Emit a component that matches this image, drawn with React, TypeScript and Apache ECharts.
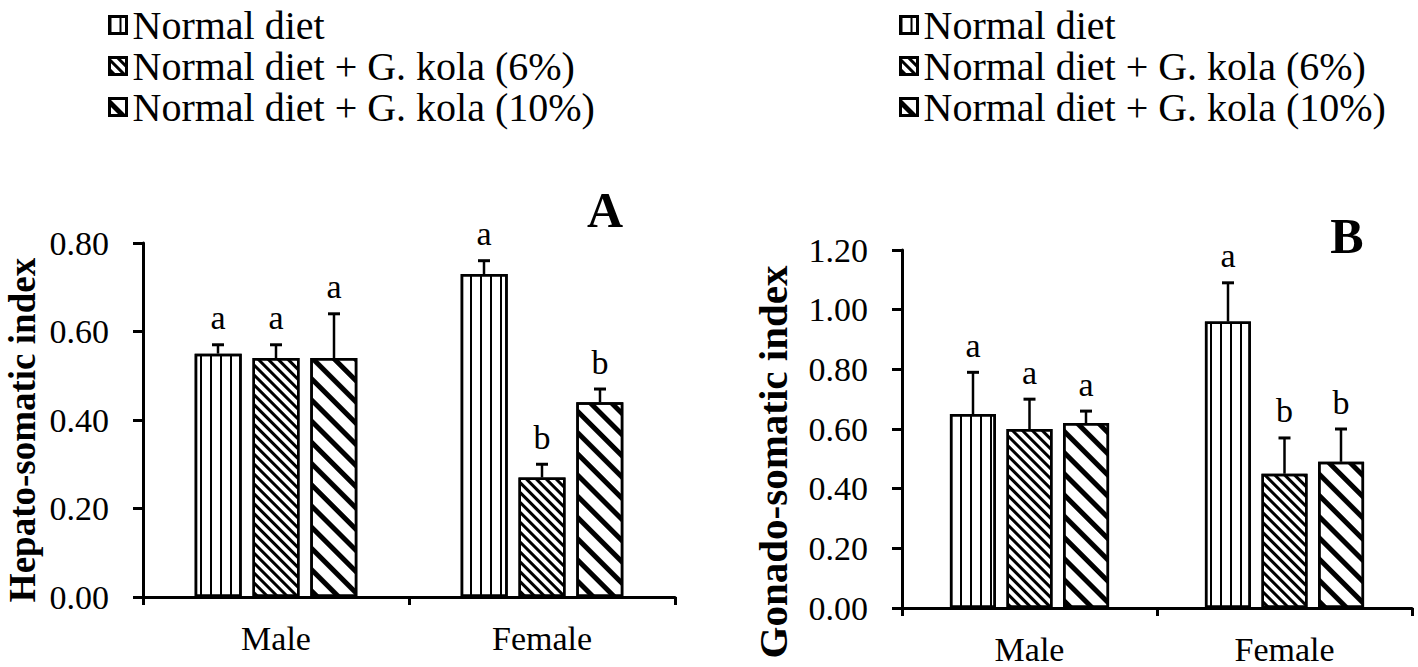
import React, { useEffect, useRef } from "react";
import * as echarts from "echarts";

const categories = ["Male", "Female"];
const seriesNames = [
  "Normal diet",
  "Normal diet + G. kola (6%)",
  "Normal diet + G. kola (10%)",
];
// Hepato-somatic index (panel A): per treatment, values for [Male, Female]
const hsiNormal = [0.55, 0.73];
const hsi6 = [0.54, 0.27];
const hsi10 = [0.54, 0.44];
const hsiErrNormal = [0.02, 0.03];
const hsiErr6 = [0.03, 0.03];
const hsiErr10 = [0.1, 0.03];
const hsiLetters = [["a", "a"], ["a", "b"], ["a", "b"]];
// Gonado-somatic index (panel B)
const gsiNormal = [0.65, 0.96];
const gsi6 = [0.6, 0.45];
const gsi10 = [0.62, 0.49];
const gsiErrNormal = [0.14, 0.13];
const gsiErr6 = [0.1, 0.12];
const gsiErr10 = [0.04, 0.11];
const gsiLetters = [["a", "a"], ["a", "b"], ["a", "b"]];

const hsiAxis = { min: 0, max: 0.8, interval: 0.2 };
const gsiAxis = { min: 0, max: 1.2, interval: 0.2 };

const FONT = '"Liberation Serif", "Times New Roman", serif';

const decals = [
  {
    symbol: "rect",
    symbolSize: 1,
    color: "#000",
    backgroundColor: "#fff",
    dashArrayX: [2, 8],
    dashArrayY: [1, 0],
    rotation: 0,
  },
  {
    symbol: "rect",
    symbolSize: 1,
    color: "#000",
    backgroundColor: "#fff",
    dashArrayX: [1, 0],
    dashArrayY: [2.5, 3.2],
    rotation: Math.PI / 4,
  },
  {
    symbol: "rect",
    symbolSize: 1,
    color: "#000",
    backgroundColor: "#fff",
    dashArrayX: [1, 0],
    dashArrayY: [5, 10],
    rotation: Math.PI / 4,
  },
];

export default function App() {
  const ref = useRef<HTMLDivElement>(null);

  useEffect(() => {
    if (!ref.current) return;
    const chart = echarts.init(ref.current, null, { renderer: "svg" });

    const panels = [
      {
        values: [hsiNormal, hsi6, hsi10],
        errors: [hsiErrNormal, hsiErr6, hsiErr10],
        letters: hsiLetters,
        barWidth: 47,
        step: 58,
      },
      {
        values: [gsiNormal, gsi6, gsi10],
        errors: [gsiErrNormal, gsiErr6, gsiErr10],
        letters: gsiLetters,
        barWidth: 46,
        step: 56.5,
      },
    ];

    const series: any[] = [];
    panels.forEach((p, pi) => {
      p.values.forEach((vals, si) => {
        series.push({
          type: "bar",
          name: seriesNames[si],
          xAxisIndex: pi,
          yAxisIndex: pi,
          data: vals,
          barWidth: p.barWidth,
          barGap: "23%",
          itemStyle: {
            color: "#fff",
            borderColor: "#000",
            borderWidth: 2.5,
            decal: decals[si],
          },
          emphasis: { disabled: true },
        });
      });
      p.values.forEach((vals, si) => {
        const errs = p.errors[si];
        const lets = p.letters[si];
        series.push({
          type: "custom",
          name: "err" + pi + si,
          xAxisIndex: pi,
          yAxisIndex: pi,
          z: 5,
          data: vals.map((v, ci) => [ci, v, errs[ci]]),
          renderItem: (params: any, api: any) => {
            const ci = api.value(0);
            const v = api.value(1);
            const e = api.value(2);
            const base = api.coord([ci, v]);
            const top = api.coord([ci, v + e]);
            const x = base[0] + (si - 1) * p.step;
            return {
              type: "group",
              children: [
                {
                  type: "line",
                  shape: { x1: x, y1: base[1], x2: x, y2: top[1] },
                  style: { stroke: "#000", lineWidth: 2.5 },
                },
                {
                  type: "line",
                  shape: { x1: x - 6, y1: top[1], x2: x + 6, y2: top[1] },
                  style: { stroke: "#000", lineWidth: 3 },
                },
                {
                  type: "text",
                  x: x,
                  y: top[1] - 10,
                  style: {
                    text: lets[params.dataIndex],
                    font: "34px " + FONT,
                    fill: "#000",
                    textAlign: "center",
                    textVerticalAlign: "bottom",
                  },
                },
              ],
            };
          },
        });
      });
    });

    const axisCommon = (ax: any) => ({
      type: "value",
      min: ax.min,
      max: ax.max,
      interval: ax.interval,
      splitLine: { show: false },
      axisLine: { show: true, lineStyle: { color: "#000", width: 3 } },
      axisTick: { show: true, length: 10, lineStyle: { color: "#000", width: 3 } },
      axisLabel: {
        color: "#000",
        fontSize: 34,
        fontFamily: FONT,
        margin: 34,
        formatter: (v: number) => v.toFixed(2),
      },
    });

    const xCommon = (gi: number) => ({
      type: "category",
      gridIndex: gi,
      data: categories,
      axisLine: { show: true, lineStyle: { color: "#000", width: 3 } },
      axisTick: { show: true, length: 8, lineStyle: { color: "#000", width: 3 } },
      axisLabel: { color: "#000", fontSize: 34, fontFamily: FONT, margin: 24 },
    });

    const legendCommon = (left: number) => ({
      orient: "vertical",
      left,
      top: 0,
      itemWidth: 17,
      itemHeight: 17,
      itemGap: 1,
      icon: "rect",
      selectedMode: false,
      data: seriesNames,
      itemStyle: { borderWidth: 3 },
      textStyle: {
        color: "#000",
        fontSize: 40,
        fontFamily: FONT,
        padding: [0, 0, 0, 1],
      },
    });

    chart.setOption({
      animation: false,
      backgroundColor: "#fff",
      legend: [legendCommon(103), legendCommon(894)],
      grid: [
        { left: 143, right: 743, top: 243, bottom: 70 },
        { left: 902, right: 6, top: 250, bottom: 59 },
      ],
      xAxis: [xCommon(0), xCommon(1)],
      yAxis: [
        { ...axisCommon(hsiAxis), gridIndex: 0 },
        { ...axisCommon(gsiAxis), gridIndex: 1 },
      ],
      series,
      graphic: [
        {
          type: "text",
          x: 22,
          y: 430,
          rotation: Math.PI / 2,
          style: {
            text: "Hepato-somatic index",
            font: "bold 37px " + FONT,
            fill: "#000",
            textAlign: "center",
            textVerticalAlign: "middle",
          },
        },
        {
          type: "text",
          x: 773,
          y: 462,
          rotation: Math.PI / 2,
          style: {
            text: "Gonado-somatic index",
            font: "bold 41px " + FONT,
            fill: "#000",
            textAlign: "center",
            textVerticalAlign: "middle",
          },
        },
        {
          type: "text",
          x: 605,
          y: 210,
          style: {
            text: "A",
            font: "bold 50px " + FONT,
            fill: "#000",
            textAlign: "center",
            textVerticalAlign: "middle",
          },
        },
        {
          type: "text",
          x: 1347,
          y: 236,
          style: {
            text: "B",
            font: "bold 50px " + FONT,
            fill: "#000",
            textAlign: "center",
            textVerticalAlign: "middle",
          },
        },
      ],
    });

    return () => chart.dispose();
  }, []);

  return (
    <div
      ref={ref}
      style={{ position: "fixed", left: 0, top: 0, width: 1418, height: 667, background: "#fff" }}
    />
  );
}
